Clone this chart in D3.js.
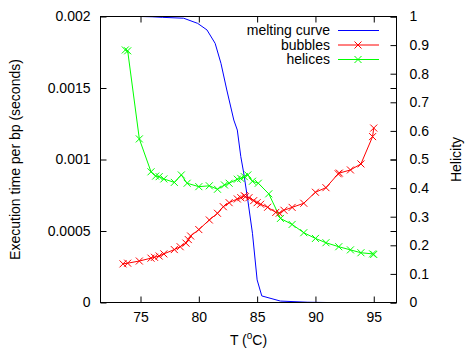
<!DOCTYPE html>
<html>
<head>
<meta charset="utf-8">
<script src="https://cdn.jsdelivr.net/npm/d3@7/dist/d3.min.js"></script>
<style>
  body { margin: 0; background: #fff; }
  text { font-family: "Liberation Sans", Arial, sans-serif; }
</style>
</head>
<body>
<svg id="plotSvg"></svg>
<script>
// temperatures (oC) and values
var meltT = [73.5, 75, 76, 76.9, 78.7, 79.9, 80.7, 81.4, 81.9, 82.4, 83.0, 83.3, 83.6, 83.85, 84.2, 84.6, 85.0, 85.4, 87.0, 89.3, 91, 93, 95];
var meltH = [1, 1, 0.999, 0.997, 0.994, 0.976, 0.953, 0.906, 0.836, 0.743, 0.638, 0.603, 0.51, 0.453, 0.358, 0.242, 0.079, 0.023, 0.005, 0.001, 0, 0, 0];

var bubT = [73.5, 73.9, 74.9, 75.9, 76.2, 76.6, 77.0, 77.9, 78.4, 78.9, 79.1, 79.3, 80.0, 80.9, 81.6, 82.1, 82.6, 83.3, 83.6, 83.9, 84.0, 84.3, 84.7, 85.0, 85.3, 85.9, 86.6, 86.9, 87.3, 88.0, 89.0, 90.0, 90.9, 91.95, 92.05, 93.0, 93.9, 94.9, 95.0];
var bubTime = [0.00027, 0.000275, 0.00029, 0.00031, 0.000316, 0.000325, 0.00034, 0.00037, 0.00039, 0.000415, 0.00044, 0.000465, 0.00051, 0.000577, 0.000624, 0.00067, 0.000698, 0.000724, 0.000733, 0.000747, 0.00074, 0.000733, 0.000712, 0.000698, 0.000687, 0.000666, 0.00063, 0.000625, 0.000645, 0.000665, 0.000694, 0.000771, 0.000803, 0.0009, 0.000905, 0.000927, 0.000969, 0.00116, 0.00122];

var helT = [73.7, 73.9, 74.9, 75.9, 76.3, 76.6, 77.0, 77.9, 78.5, 79.0, 80.0, 80.9, 81.6, 82.2, 82.6, 83.3, 83.6, 83.9, 84.2, 84.6, 85.1, 86.0, 87.0, 88.0, 89.0, 90.0, 90.9, 92.0, 93.0, 93.9, 94.9, 95.0];
var helTime = [0.001766, 0.00176, 0.001144, 0.000914, 0.000884, 0.00088, 0.000864, 0.00084, 0.000892, 0.000834, 0.00081, 0.000816, 0.000792, 0.000822, 0.000834, 0.000862, 0.000868, 0.00088, 0.000892, 0.000848, 0.000834, 0.00076, 0.000588, 0.000546, 0.000488, 0.000448, 0.000418, 0.00039, 0.000368, 0.000348, 0.00034, 0.000336];

var xTicks = [75, 80, 85, 90, 95];
var yTicks = [0, 0.0005, 0.001, 0.0015, 0.002];
var y2Ticks = [0, 0.1, 0.2, 0.3, 0.4, 0.5, 0.6, 0.7, 0.8, 0.9, 1];
var seriesNames = ["melting curve", "bubbles", "helices"];
var seriesColors = ["#0000ff", "#ff0000", "#00ff00"];

var width = 469, height = 361;
var svg = d3.select("#plotSvg").attr("width", width).attr("height", height);

var margin = { top: 16.5, right: 72.5, bottom: 58.5, left: 100.5 };
var x = d3.scaleLinear().domain([71.57, 96.95]).range([margin.left, width - margin.right]);
var y = d3.scaleLinear().domain([0, 0.002]).range([height - margin.bottom, margin.top]);
var y2 = d3.scaleLinear().domain([0, 1]).range([height - margin.bottom, margin.top]);

var cross = "M-3.5,-3.5L3.5,3.5M-3.5,3.5L3.5,-3.5";

// axes (ticks point inward, like gnuplot)
function styleAxis(g) {
  g.select(".domain").remove();
  g.selectAll(".tick line").attr("stroke", "#000");
  g.selectAll("text").attr("font-size", 14).attr("fill", "#000")
    .attr("font-family", "'Liberation Sans', Arial, sans-serif");
}

svg.append("g")
  .attr("transform", "translate(0," + y(0) + ")")
  .call(d3.axisBottom(x).tickValues(xTicks).tickSize(-6).tickPadding(10).tickFormat(d3.format("d")))
  .call(styleAxis);
svg.append("g")
  .attr("transform", "translate(0," + margin.top + ")")
  .call(d3.axisTop(x).tickValues(xTicks).tickSize(-6).tickFormat(""))
  .call(styleAxis);
svg.append("g")
  .attr("transform", "translate(" + margin.left + ",0)")
  .call(d3.axisLeft(y).tickValues(yTicks).tickSize(-6).tickPadding(10).tickFormat(function(d) { return d === 0 ? "0" : String(+d.toFixed(4)); }))
  .call(styleAxis);
svg.append("g")
  .attr("transform", "translate(" + (width - margin.right) + ",0)")
  .call(d3.axisRight(y).tickValues(yTicks).tickSize(-6).tickFormat(""))
  .call(styleAxis);
svg.append("g")
  .attr("transform", "translate(" + (width - margin.right) + ",0)")
  .call(d3.axisRight(y2).tickValues(y2Ticks).tickSize(-6).tickPadding(13).tickFormat(function(d) { return String(+d.toFixed(1)); }))
  .call(styleAxis);

// series
var melt = meltT.map(function(t, i) { return [x(t), y2(meltH[i])]; });
var bub = bubT.map(function(t, i) { return [x(t), y(bubTime[i])]; });
var hel = helT.map(function(t, i) { return [x(t), y(helTime[i])]; });

var line = d3.line();

svg.append("path").attr("d", line(melt)).attr("fill", "none").attr("stroke", seriesColors[0]).attr("stroke-width", 1);
svg.append("path").attr("d", line(bub)).attr("fill", "none").attr("stroke", seriesColors[1]).attr("stroke-width", 1);
svg.append("path").attr("d", line(hel)).attr("fill", "none").attr("stroke", seriesColors[2]).attr("stroke-width", 1);

svg.append("g").selectAll("path").data(bub).enter().append("path")
  .attr("d", cross).attr("transform", function(d) { return "translate(" + d[0] + "," + d[1] + ")"; })
  .attr("stroke", seriesColors[1]).attr("fill", "none");
svg.append("g").selectAll("path").data(hel).enter().append("path")
  .attr("d", cross).attr("transform", function(d) { return "translate(" + d[0] + "," + d[1] + ")"; })
  .attr("stroke", seriesColors[2]).attr("fill", "none");

// border
svg.append("rect")
  .attr("x", margin.left).attr("y", margin.top)
  .attr("width", width - margin.left - margin.right)
  .attr("height", height - margin.top - margin.bottom)
  .attr("fill", "none").attr("stroke", "#000").attr("stroke-width", 1);

// legend
var legend = svg.append("g").selectAll("g")
  .data(seriesNames)
  .enter().append("g")
  .attr("transform", function(d, i) { return "translate(0," + (30.5 + i * 14.5) + ")"; });
legend.append("text")
  .attr("x", 330).attr("dy", "0.35em").attr("text-anchor", "end").attr("font-size", 14)
  .text(function(d) { return d; });
legend.append("line")
  .attr("x1", 338).attr("x2", 379)
  .attr("stroke", function(d, i) { return seriesColors[i]; });
legend.filter(function(d, i) { return i > 0; }).append("path")
  .attr("d", cross).attr("transform", "translate(358,0)").attr("fill", "none")
  .attr("stroke", function(d, i) { return seriesColors[i + 1]; });

// axis titles
svg.append("text")
  .attr("transform", "translate(20," + (margin.top + (y(0) - margin.top) / 2) + ") rotate(-90)")
  .attr("text-anchor", "middle").attr("font-size", 14)
  .text("Execution time per bp (seconds)");
svg.append("text")
  .attr("transform", "translate(461," + (margin.top + (y(0) - margin.top) / 2) + ") rotate(-90)")
  .attr("text-anchor", "middle").attr("font-size", 14)
  .text("Helicity");
var xt = svg.append("text")
  .attr("x", (margin.left + width - margin.right) / 2).attr("y", 345)
  .attr("text-anchor", "middle").attr("font-size", 14);
xt.append("tspan").text("T (");
xt.append("tspan").attr("font-size", 10).attr("dy", -6).text("o");
xt.append("tspan").attr("dy", 6).text("C)");
</script>
</body>
</html>
